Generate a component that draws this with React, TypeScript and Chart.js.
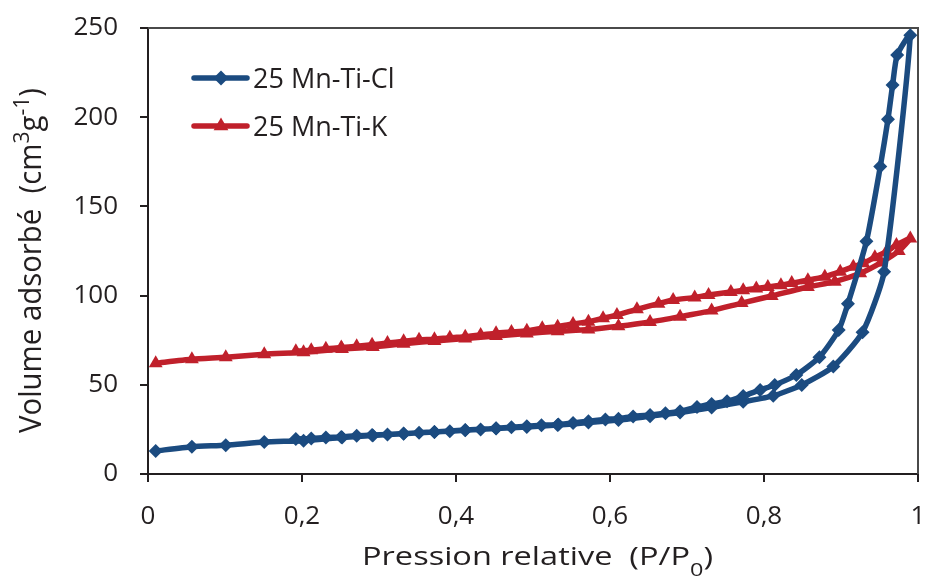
import React, { useEffect, useRef } from "react";
import { Chart, registerables } from "chart.js";

Chart.register(...registerables);

// ---------- data ----------
const seriesLabels = ["25 Mn-Ti-Cl", "25 Mn-Ti-K"];

// 25 Mn-Ti-Cl adsorption branch
const clAdsX = [0.010, 0.057, 0.101, 0.151, 0.202, 0.252, 0.292, 0.332, 0.372, 0.412, 0.452, 0.492, 0.532, 0.572, 0.611, 0.652, 0.691, 0.732, 0.773, 0.812, 0.849, 0.890, 0.928, 0.956, 0.990];
const clAdsY = [12.9, 15.3, 16.1, 17.9, 18.7, 20.5, 21.6, 22.6, 23.6, 24.6, 25.5, 26.4, 27.4, 28.8, 30.2, 32.4, 34.5, 37.3, 40.5, 43.8, 49.9, 60.2, 79.5, 113.4, 246.0];
// 25 Mn-Ti-Cl desorption branch
const clDesX = [0.973, 0.967, 0.961, 0.951, 0.933, 0.909, 0.897, 0.872, 0.842, 0.814, 0.795, 0.773, 0.752, 0.732, 0.713, 0.691, 0.672, 0.652, 0.630, 0.611, 0.594, 0.572, 0.552, 0.533, 0.511, 0.492, 0.472, 0.452, 0.432, 0.412, 0.392, 0.372, 0.352, 0.332, 0.311, 0.291, 0.271, 0.251, 0.231, 0.212, 0.192];
const clDesY = [234.9, 218.0, 198.8, 172.3, 130.4, 95.5, 80.7, 65.5, 55.5, 49.9, 47.1, 43.7, 40.8, 39.2, 37.5, 35.2, 34.0, 33.1, 32.3, 31.0, 30.6, 29.6, 28.6, 27.8, 27.3, 26.8, 26.2, 25.6, 25.0, 24.5, 24.0, 23.6, 23.1, 22.7, 22.2, 21.8, 21.4, 20.8, 20.4, 19.9, 19.6];

// 25 Mn-Ti-K adsorption branch
const kAdsX = [0.010, 0.057, 0.101, 0.151, 0.202, 0.252, 0.292, 0.332, 0.372, 0.412, 0.452, 0.492, 0.532, 0.572, 0.611, 0.652, 0.691, 0.732, 0.771, 0.810, 0.857, 0.892, 0.925, 0.952, 0.975, 0.990];
const kAdsY = [62.1, 64.3, 65.4, 67.1, 68.2, 70.0, 71.2, 73.0, 74.6, 76.0, 77.4, 78.8, 80.0, 81.0, 82.8, 85.2, 88.2, 91.6, 95.8, 99.8, 104.8, 107.8, 112.5, 118.5, 125.0, 132.0];
// 25 Mn-Ti-K desorption branch
const kDesX = [0.972, 0.959, 0.944, 0.929, 0.916, 0.899, 0.879, 0.857, 0.836, 0.822, 0.805, 0.790, 0.773, 0.757, 0.728, 0.710, 0.682, 0.663, 0.635, 0.609, 0.591, 0.572, 0.552, 0.532, 0.512, 0.492, 0.472, 0.452, 0.432, 0.412, 0.392, 0.372, 0.352, 0.332, 0.311, 0.291, 0.271, 0.251, 0.231, 0.212, 0.192];
const kDesY = [128.4, 124.6, 121.5, 118.1, 116.2, 113.4, 110.6, 108.6, 107.0, 105.8, 104.8, 104.0, 103.0, 102.0, 100.3, 99.0, 97.5, 95.5, 92.3, 89.1, 87.3, 85.4, 84.1, 82.6, 81.7, 80.3, 79.6, 78.9, 77.9, 77.0, 76.4, 75.6, 75.2, 74.4, 73.4, 72.4, 71.6, 70.9, 70.2, 69.4, 68.8];

const xMin = 0, xMax = 1, xStep = 0.2;
const yMin = 0, yMax = 250, yStep = 50;

type Part = { t: string; s?: "sup" | "sub" };
const xTitleParts: Part[] = [{ t: "Pression relative  (P/P" }, { t: "0", s: "sub" }, { t: ")" }];
const yTitleParts: Part[] = [{ t: "Volume adsorbé  (cm" }, { t: "3", s: "sup" }, { t: "g" }, { t: "-1", s: "sup" }, { t: ")" }];

// ---------- style ----------
const FONT = "'Open Sans', sans-serif";
const TXT = "#231F20";
const BLUE = "#1B4B80";
const RED = "#C0202B";

function toPoints(xs: number[], ys: number[]) {
  return xs.map((x, i) => ({ x, y: ys[i] }));
}

function partFont(size: number, p: Part) {
  return `${p.s ? size * 0.72 : size}px ${FONT}`;
}
function richWidth(ctx: CanvasRenderingContext2D, parts: Part[], size: number) {
  let w = 0;
  for (const p of parts) {
    ctx.font = partFont(size, p);
    w += ctx.measureText(p.t).width;
  }
  return w;
}
function richDraw(ctx: CanvasRenderingContext2D, parts: Part[], size: number) {
  let x = 0;
  for (const p of parts) {
    ctx.font = partFont(size, p);
    const dy = p.s === "sup" ? -size * 0.38 : p.s === "sub" ? size * 0.42 : 0;
    ctx.fillText(p.t, x, dy);
    x += ctx.measureText(p.t).width;
  }
}

function drawMarker(ctx: CanvasRenderingContext2D, style: string, x: number, y: number, r: number) {
  ctx.beginPath();
  if (style === "triangle") {
    ctx.moveTo(x, y - r);
    ctx.lineTo(x + r * 0.866, y + r * 0.5);
    ctx.lineTo(x - r * 0.866, y + r * 0.5);
  } else {
    ctx.moveTo(x - r, y);
    ctx.lineTo(x, y - r);
    ctx.lineTo(x + r, y);
    ctx.lineTo(x, y + r);
  }
  ctx.closePath();
  ctx.fill();
}

const decorPlugin = {
  id: "decor",
  beforeDatasetsDraw(chart: any) {
    const { ctx, chartArea } = chart;
    ctx.save();
    ctx.strokeStyle = "#4a4a4a";
    ctx.lineWidth = 2;
    ctx.beginPath();
    ctx.moveTo(chartArea.left, chartArea.top);
    ctx.lineTo(chartArea.right, chartArea.top);
    ctx.lineTo(chartArea.right, chartArea.bottom);
    ctx.stroke();
    ctx.restore();
  },
  afterDraw(chart: any) {
    const { ctx } = chart;
    ctx.save();
    ctx.fillStyle = TXT;
    ctx.textBaseline = "alphabetic";
    ctx.textAlign = "left";

    // x title
    {
      const size = 28;
      const w = richWidth(ctx, xTitleParts, size);
      ctx.save();
      ctx.translate(362, 565);
      ctx.scale(351 / w, 0.9);
      richDraw(ctx, xTitleParts, size);
      ctx.restore();
    }
    // y title
    {
      const size = 28;
      const w = richWidth(ctx, yTitleParts, size);
      ctx.save();
      ctx.translate(41, 433);
      ctx.rotate(-Math.PI / 2);
      ctx.scale(345 / w, 1.1);
      richDraw(ctx, yTitleParts, size);
      ctx.restore();
    }
    // legend
    const rows = [78, 126];
    chart.data.datasets.forEach((ds: any, i: number) => {
      const y = rows[i];
      ctx.strokeStyle = ds.borderColor;
      ctx.lineWidth = 5.5;
      ctx.lineCap = "round";
      ctx.beginPath();
      ctx.moveTo(194, y);
      ctx.lineTo(247, y);
      ctx.stroke();
      ctx.fillStyle = ds.backgroundColor;
      drawMarker(ctx, ds.pointStyle, 221, y, ds.pointStyle === "triangle" ? 8.5 : 7.5);
      ctx.fillStyle = TXT;
      ctx.font = `27px ${FONT}`;
      ctx.fillText(ds.label, 253, y + 9.5);
    });
    ctx.restore();
  },
};

function noPad(s: any) {
  s.paddingTop = 0;
  s.paddingBottom = 0;
  s.paddingLeft = 0;
  s.paddingRight = 0;
}

export default function App() {
  const ref = useRef<HTMLCanvasElement | null>(null);
  useEffect(() => {
    document.body.style.margin = "0";
    const canvas = ref.current;
    if (!canvas) return;
    const clData = [...toPoints(clAdsX, clAdsY), ...toPoints(clDesX, clDesY)];
    const kData = [...toPoints(kAdsX, kAdsY), ...toPoints(kDesX, kDesY)];
    const tickFont = { family: FONT, size: 26 };
    const chart = new Chart(canvas, {
      type: "scatter",
      data: {
        datasets: [
          {
            label: seriesLabels[0],
            data: clData,
            showLine: true,
            borderColor: BLUE,
            backgroundColor: BLUE,
            borderWidth: 5.5,
            pointStyle: "rectRot",
            pointRadius: 7,
            pointBorderWidth: 0,
            tension: 0.2,
          },
          {
            label: seriesLabels[1],
            data: kData,
            showLine: true,
            borderColor: RED,
            backgroundColor: RED,
            borderWidth: 5.5,
            pointStyle: "triangle",
            pointRadius: 8,
            pointBorderWidth: 0,
            tension: 0.2,
          },
        ],
      },
      options: {
        animation: false,
        responsive: true,
        maintainAspectRatio: false,
        devicePixelRatio: 1,
        layout: { padding: { top: 28, right: 10, left: 0, bottom: 0 } },
        plugins: { legend: { display: false }, tooltip: { enabled: false } },
        scales: {
          x: {
            type: "linear",
            min: xMin,
            max: xMax,
            afterFit: (s: any) => { s.height = 103; noPad(s); },
            ticks: {
              stepSize: xStep,
              autoSkip: false,
              maxRotation: 0,
              padding: 19,
              color: TXT,
              font: tickFont,
              callback: (v: any) => {
                const n = Math.round(Number(v) * 10) / 10;
                return String(n).replace(".", ",");
              },
            },
            grid: { drawOnChartArea: false, drawTicks: true, tickLength: 8, color: TXT, lineWidth: 2 },
            border: { display: true, color: TXT, width: 2 },
          },
          y: {
            min: yMin,
            max: yMax,
            afterFit: (s: any) => { s.width = 148; noPad(s); },
            ticks: {
              stepSize: yStep,
              autoSkip: false,
              padding: 22,
              color: TXT,
              font: tickFont,
            },
            grid: { drawOnChartArea: false, drawTicks: true, tickLength: 8, color: TXT, lineWidth: 2 },
            border: { display: true, color: TXT, width: 2 },
          },
        },
      },
      plugins: [decorPlugin],
    } as any);
    return () => chart.destroy();
  }, []);
  return (
    <div style={{ position: "absolute", left: 0, top: 0, width: 928, height: 577 }}>
      <canvas ref={ref} />
    </div>
  );
}
